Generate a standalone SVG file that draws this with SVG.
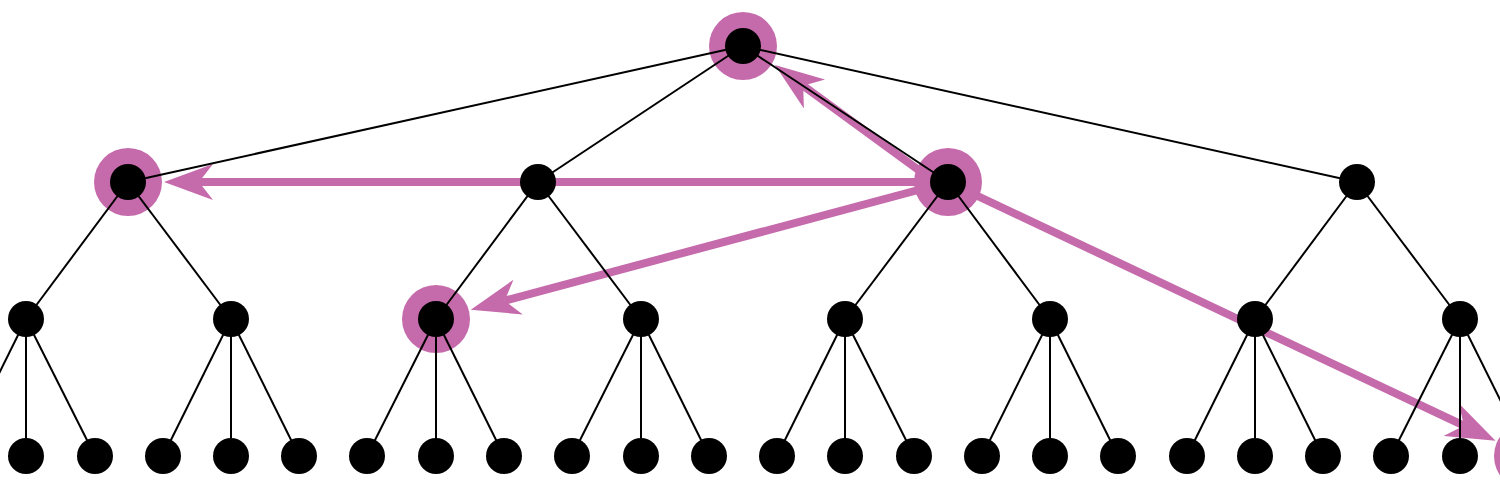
<svg xmlns="http://www.w3.org/2000/svg" width="1500" height="500" viewBox="0 0 1500 500">
<style>
.e{stroke:#000;stroke-width:2;fill:none}
.a{stroke:#C56AAB;stroke-width:8;fill:none;marker-end:url(#ah)}
.h{fill:#C56AAB}
.n{fill:#000}
</style>
<defs>
<marker id="ah" markerUnits="userSpaceOnUse" markerWidth="49" markerHeight="36" refX="14" refY="18" orient="auto" viewBox="0 0 49 36">
<path d="M0,0 L49,18 L0,36 L14,18 Z" fill="#C56AAB"/>
</marker>
</defs>
<rect width="1500" height="500" fill="#fff"/>
<g id="arrows">
<line class="a" x1="948" y1="182" x2="199" y2="182"/>
<line class="a" x1="946" y1="190" x2="803.2" y2="85.7"/>
<line class="a" x1="948" y1="182" x2="504.6" y2="300.7"/>
<line class="a" x1="948" y1="182" x2="1463.9" y2="425.7"/>
</g>
<g id="halos">
<circle class="h" cx="743" cy="46" r="34"/>
<circle class="h" cx="128" cy="182" r="34"/>
<circle class="h" cx="948" cy="182" r="34"/>
<circle class="h" cx="436" cy="319" r="34"/>
<circle class="h" cx="1528" cy="456" r="34"/>
</g>
<g id="edges">
<line class="e" x1="743" y1="46" x2="128" y2="182"/>
<line class="e" x1="743" y1="46" x2="538" y2="182"/>
<line class="e" x1="743" y1="46" x2="948" y2="182"/>
<line class="e" x1="743" y1="46" x2="1357" y2="182"/>
<line class="e" x1="128" y1="182" x2="26" y2="319"/>
<line class="e" x1="128" y1="182" x2="231" y2="319"/>
<line class="e" x1="538" y1="182" x2="436" y2="319"/>
<line class="e" x1="538" y1="182" x2="641" y2="319"/>
<line class="e" x1="948" y1="182" x2="845" y2="319"/>
<line class="e" x1="948" y1="182" x2="1050" y2="319"/>
<line class="e" x1="1357" y1="182" x2="1255" y2="319"/>
<line class="e" x1="1357" y1="182" x2="1460" y2="319"/>
<line class="e" x1="26" y1="319" x2="-42" y2="456"/>
<line class="e" x1="26" y1="319" x2="26" y2="456"/>
<line class="e" x1="26" y1="319" x2="95" y2="456"/>
<line class="e" x1="231" y1="319" x2="163" y2="456"/>
<line class="e" x1="231" y1="319" x2="231" y2="456"/>
<line class="e" x1="231" y1="319" x2="299" y2="456"/>
<line class="e" x1="436" y1="319" x2="367" y2="456"/>
<line class="e" x1="436" y1="319" x2="436" y2="456"/>
<line class="e" x1="436" y1="319" x2="504" y2="456"/>
<line class="e" x1="641" y1="319" x2="572" y2="456"/>
<line class="e" x1="641" y1="319" x2="641" y2="456"/>
<line class="e" x1="641" y1="319" x2="709" y2="456"/>
<line class="e" x1="845" y1="319" x2="777" y2="456"/>
<line class="e" x1="845" y1="319" x2="845" y2="456"/>
<line class="e" x1="845" y1="319" x2="914" y2="456"/>
<line class="e" x1="1050" y1="319" x2="982" y2="456"/>
<line class="e" x1="1050" y1="319" x2="1050" y2="456"/>
<line class="e" x1="1050" y1="319" x2="1118" y2="456"/>
<line class="e" x1="1255" y1="319" x2="1187" y2="456"/>
<line class="e" x1="1255" y1="319" x2="1255" y2="456"/>
<line class="e" x1="1255" y1="319" x2="1323" y2="456"/>
<line class="e" x1="1460" y1="319" x2="1391" y2="456"/>
<line class="e" x1="1460" y1="319" x2="1460" y2="456"/>
<line class="e" x1="1460" y1="319" x2="1528" y2="456"/>
</g>
<g id="n-root"><circle class="n" cx="743" cy="46" r="18"/></g>
<g id="n-1a"><circle class="n" cx="128" cy="182" r="18"/></g>
<g id="n-1b"><circle class="n" cx="538" cy="182" r="18"/></g>
<g id="n-1c"><circle class="n" cx="948" cy="182" r="18"/></g>
<g id="n-1d"><circle class="n" cx="1357" cy="182" r="18"/></g>
<g id="n-2a"><circle class="n" cx="26" cy="319" r="18"/></g>
<g id="n-2b"><circle class="n" cx="231" cy="319" r="18"/></g>
<g id="n-2c"><circle class="n" cx="436" cy="319" r="18"/></g>
<g id="n-2d"><circle class="n" cx="641" cy="319" r="18"/></g>
<g id="n-2e"><circle class="n" cx="845" cy="319" r="18"/></g>
<g id="n-2f"><circle class="n" cx="1050" cy="319" r="18"/></g>
<g id="n-2g"><circle class="n" cx="1255" cy="319" r="18"/></g>
<g id="n-2h"><circle class="n" cx="1460" cy="319" r="18"/></g>
<g id="n-3a"><circle class="n" cx="-42" cy="456" r="18"/></g>
<g id="n-3b"><circle class="n" cx="26" cy="456" r="18"/></g>
<g id="n-3c"><circle class="n" cx="95" cy="456" r="18"/></g>
<g id="n-3d"><circle class="n" cx="163" cy="456" r="18"/></g>
<g id="n-3e"><circle class="n" cx="231" cy="456" r="18"/></g>
<g id="n-3f"><circle class="n" cx="299" cy="456" r="18"/></g>
<g id="n-3g"><circle class="n" cx="367" cy="456" r="18"/></g>
<g id="n-3h"><circle class="n" cx="436" cy="456" r="18"/></g>
<g id="n-3i"><circle class="n" cx="504" cy="456" r="18"/></g>
<g id="n-3j"><circle class="n" cx="572" cy="456" r="18"/></g>
<g id="n-3k"><circle class="n" cx="641" cy="456" r="18"/></g>
<g id="n-3l"><circle class="n" cx="709" cy="456" r="18"/></g>
<g id="n-3m"><circle class="n" cx="777" cy="456" r="18"/></g>
<g id="n-3n"><circle class="n" cx="845" cy="456" r="18"/></g>
<g id="n-3o"><circle class="n" cx="914" cy="456" r="18"/></g>
<g id="n-3p"><circle class="n" cx="982" cy="456" r="18"/></g>
<g id="n-3q"><circle class="n" cx="1050" cy="456" r="18"/></g>
<g id="n-3r"><circle class="n" cx="1118" cy="456" r="18"/></g>
<g id="n-3s"><circle class="n" cx="1187" cy="456" r="18"/></g>
<g id="n-3t"><circle class="n" cx="1255" cy="456" r="18"/></g>
<g id="n-3u"><circle class="n" cx="1323" cy="456" r="18"/></g>
<g id="n-3v"><circle class="n" cx="1391" cy="456" r="18"/></g>
<g id="n-3w"><circle class="n" cx="1460" cy="456" r="18"/></g>
<g id="n-3x"><circle class="n" cx="1528" cy="456" r="18"/></g>
</svg>
